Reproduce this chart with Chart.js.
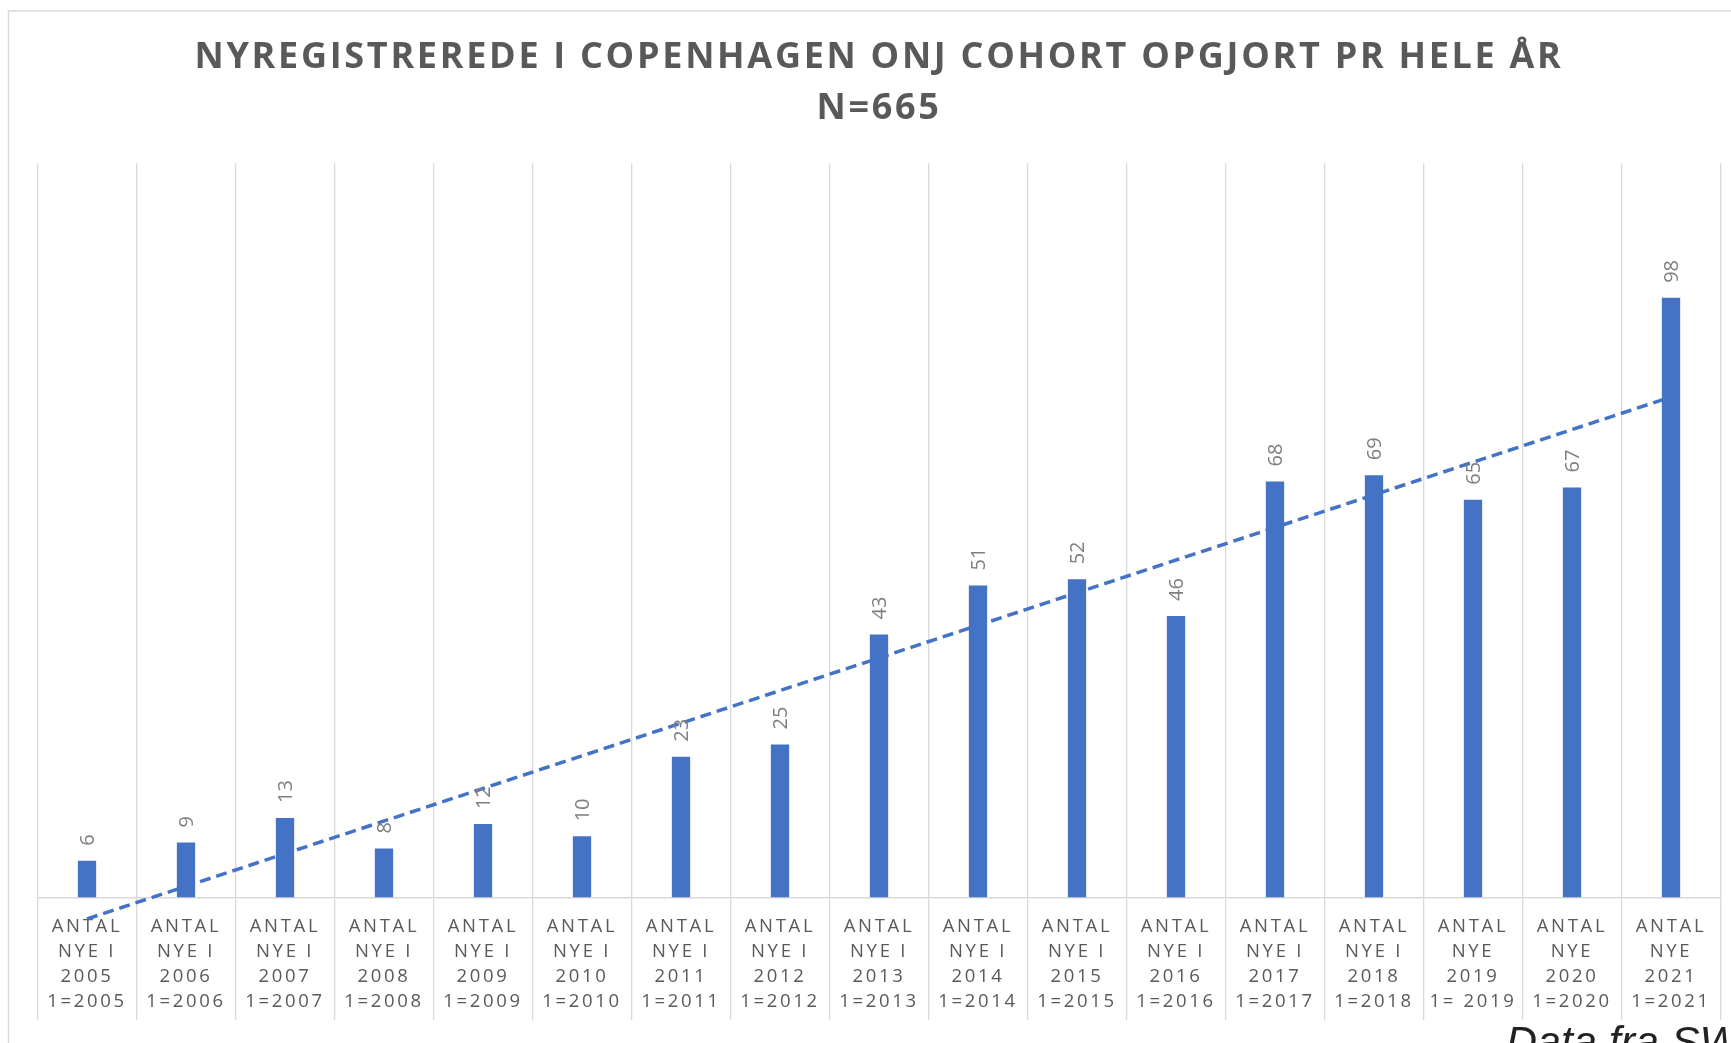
<!DOCTYPE html>
<html>
<head>
<meta charset="utf-8">
<title>Nyregistrerede i Copenhagen ONJ cohort</title>
<script src="https://cdn.jsdelivr.net/npm/chart.js@4.4.1/dist/chart.umd.min.js"></script>
<style>
    html, body { margin: 0; padding: 0; background: #fff; }
    #wrap { width: 1731px; height: 1043px; }
</style>
</head>
<body>
<div id="wrap"><canvas id="cohortChart" width="1731" height="1043"></canvas></div>
<script>
// one multi-line label per year, as printed under each bar
const categories = [
    ['ANTAL', 'NYE I', '2005', '1=2005'],
    ['ANTAL', 'NYE I', '2006', '1=2006'],
    ['ANTAL', 'NYE I', '2007', '1=2007'],
    ['ANTAL', 'NYE I', '2008', '1=2008'],
    ['ANTAL', 'NYE I', '2009', '1=2009'],
    ['ANTAL', 'NYE I', '2010', '1=2010'],
    ['ANTAL', 'NYE I', '2011', '1=2011'],
    ['ANTAL', 'NYE I', '2012', '1=2012'],
    ['ANTAL', 'NYE I', '2013', '1=2013'],
    ['ANTAL', 'NYE I', '2014', '1=2014'],
    ['ANTAL', 'NYE I', '2015', '1=2015'],
    ['ANTAL', 'NYE I', '2016', '1=2016'],
    ['ANTAL', 'NYE I', '2017', '1=2017'],
    ['ANTAL', 'NYE I', '2018', '1=2018'],
    ['ANTAL', 'NYE', '2019', '1= 2019'],
    ['ANTAL', 'NYE', '2020', '1=2020'],
    ['ANTAL', 'NYE', '2021', '1=2021']
];
const newPatients = [6, 9, 13, 8, 12, 10, 23, 25, 43, 51, 52, 46, 68, 69, 65, 67, 98];
// dashed linear trendline, value at first and last year
const trendEnds = [-3.5, 81.8];
const titleLines = ['NYREGISTREREDE I COPENHAGEN ONJ COHORT OPGJORT PR HELE ÅR', 'N=665'];
const sourceNote = 'Data fra SW';

const trendData = newPatients.map((v, i) => {
    if (i === 0) return trendEnds[0];
    if (i === newPatients.length - 1) return trendEnds[1];
    return null;
});

const frameAndSpacing = {
    id: 'frameAndSpacing',
    beforeDraw(chart) {
        const ctx = chart.ctx;
        ctx.save();
        ctx.strokeStyle = '#d9d9d9';
        ctx.lineWidth = 1.5;
        ctx.strokeRect(8.5, 11, 2000, 2000);
        ctx.restore();
        // title and axis labels are letter spaced in the original
        ctx.letterSpacing = '2.7px';
    },
    afterDatasetsDraw(chart) {
        const ctx = chart.ctx;
        const meta = chart.getDatasetMeta(0);
        ctx.save();
        ctx.letterSpacing = '0px';
        ctx.font = '20px "Open Sans"';
        ctx.fillStyle = '#7f7f7f';
        ctx.textAlign = 'left';
        ctx.textBaseline = 'middle';
        meta.data.forEach((bar, i) => {
            ctx.save();
            ctx.translate(bar.x + 1, bar.y - 15);
            ctx.rotate(-Math.PI / 2);
            ctx.fillText(String(newPatients[i]), 0, 0);
            ctx.restore();
        });
        ctx.restore();
    },
    afterDraw(chart) {
        const ctx = chart.ctx;
        ctx.save();
        ctx.letterSpacing = '0px';
        ctx.font = 'italic 43px "Liberation Sans"';
        ctx.fillStyle = '#222';
        ctx.textAlign = 'left';
        ctx.textBaseline = 'alphabetic';
        ctx.fillText(sourceNote, 1506, 1056);
        ctx.restore();
    }
};

const ctx = document.getElementById('cohortChart').getContext('2d');
const cohortChart = new Chart(ctx, {
    type: 'bar',
    data: {
        labels: categories,
        datasets: [{
            label: 'Antal nye',
            data: newPatients,
            backgroundColor: '#4472C4',
            barPercentage: 0.185,
            categoryPercentage: 1,
            order: 2
        }, {
            type: 'line',
            label: 'Lineær tendens',
            data: trendData,
            spanGaps: true,
            borderColor: '#4472C4',
            borderWidth: 3.5,
            borderDash: [11, 6],
            pointRadius: 0,
            fill: false,
            clip: false,
            order: 1
        }]
    },
    options: {
        responsive: false,
        animation: false,
        layout: {
            padding: { left: 37.5, right: 10.5, top: 0, bottom: 31.7 }
        },
        scales: {
            x: {
                offset: true,
                grid: {
                    offset: true,
                    color: '#d9d9d9',
                    lineWidth: 1.3,
                    tickLength: 122.5
                },
                border: { color: '#d9d9d9', width: 1.5 },
                ticks: {
                    color: '#595959',
                    padding: -105.5,
                    maxRotation: 0,
                    minRotation: 0,
                    autoSkip: false,
                    font: { family: 'Open Sans', size: 18.5, lineHeight: 1.35 }
                },
                // separators run down through the label block, so fix the axis height
                afterFit(scale) {
                    scale.height = 113.8;
                }
            },
            y: {
                display: false,
                min: 0,
                max: 120
            }
        },
        plugins: {
            legend: { display: false },
            tooltip: { enabled: false },
            title: {
                display: true,
                text: titleLines,
                color: '#595959',
                padding: { top: 32, bottom: 29 },
                font: { family: 'Open Sans', size: 36, weight: 'bold', lineHeight: 1.42 }
            }
        }
    },
    plugins: [frameAndSpacing]
});
</script>
</body>
</html>
